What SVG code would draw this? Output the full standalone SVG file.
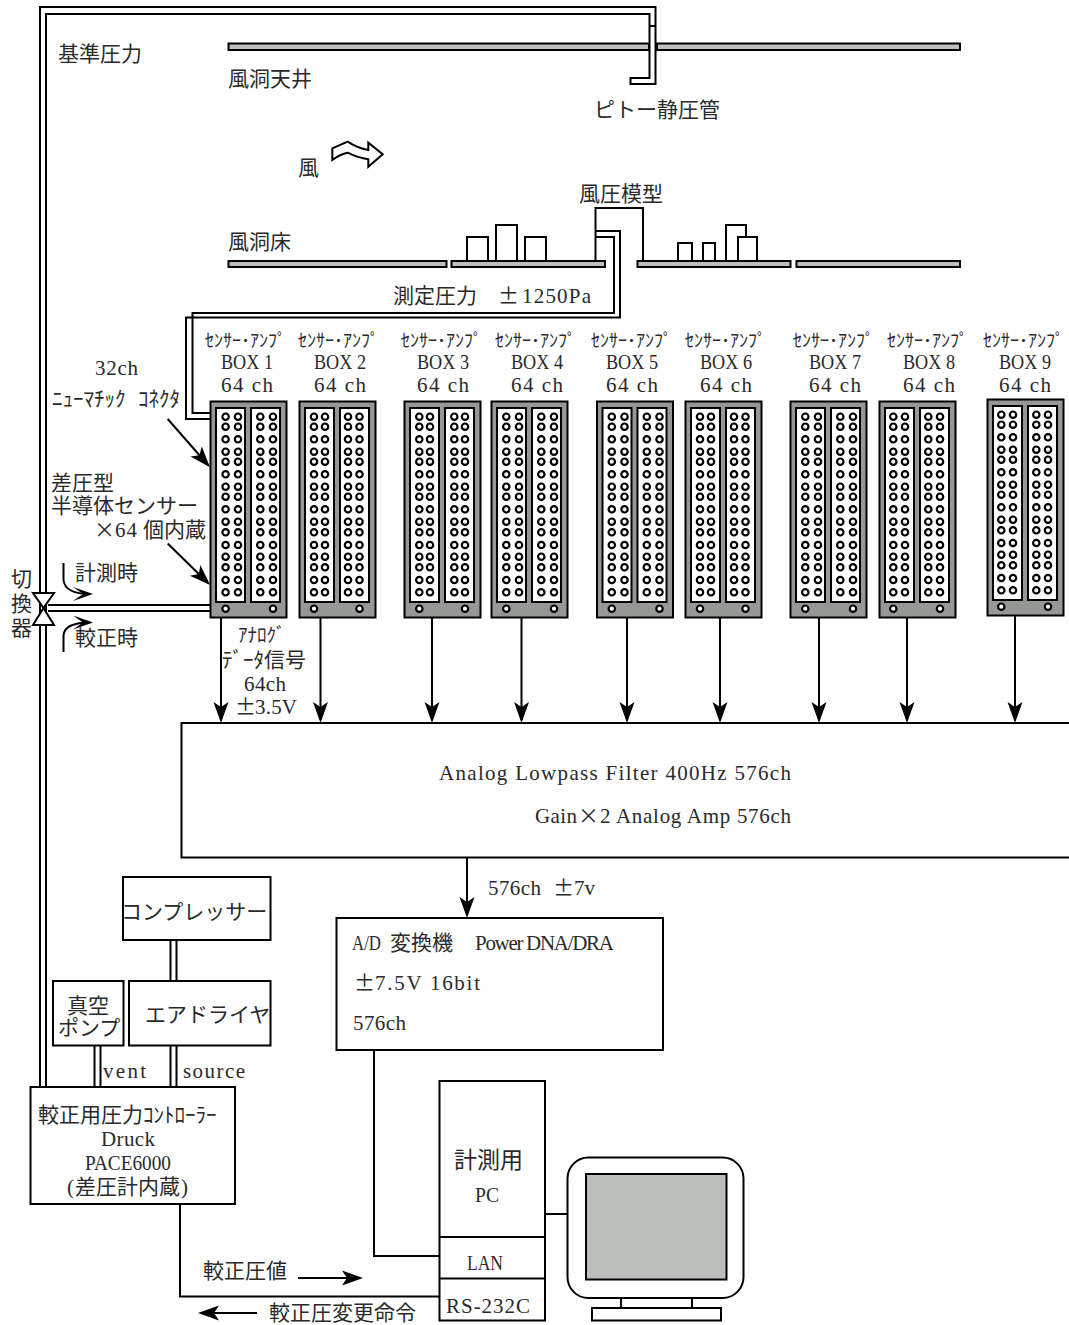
<svg xmlns="http://www.w3.org/2000/svg" width="1069" height="1325" viewBox="0 0 1069 1325">
<style>
text{fill:#2a2a2a}
.j{font-family:"Noto Sans CJK JP",sans-serif;font-size:21px}
.l{font-family:"Liberation Serif","Noto Sans CJK JP",serif;font-size:21px}
.a{font-family:"Noto Sans CJK JP",sans-serif;font-size:18px}
.h{font-family:"Noto Sans CJK JP",sans-serif;font-size:21px}
.s{fill:none;stroke:#000;stroke-width:2}
.w{fill:#fff;stroke:#000;stroke-width:2}
.g{fill:#bdbfbd;stroke:#000;stroke-width:2}
.ar{marker-end:url(#ah)}
.as{marker-end:url(#ahs)}
</style>
<defs>
<marker id="ah" markerUnits="userSpaceOnUse" markerWidth="24" markerHeight="18" refX="18" refY="9" orient="auto"><path d="M0,1.5 L21,9 L0,16.5 L5,9 Z" fill="#000"/></marker>
<marker id="ahs" markerUnits="userSpaceOnUse" markerWidth="24" markerHeight="14" refX="18" refY="7" orient="auto"><path d="M1,0 L21,7 L1,14 L11,7 Z" fill="#000"/></marker>
<g id="col" fill="#fff" stroke="#000" stroke-width="2.2">
<circle cy="15.7" r="3.2"/><circle cy="25.7" r="3.2"/><circle cy="38.3" r="3.2"/><circle cy="50.7" r="3.2"/><circle cy="60.7" r="3.2"/><circle cy="73.3" r="3.2"/><circle cy="85.7" r="3.2"/><circle cy="95.7" r="3.2"/><circle cy="108.3" r="3.2"/><circle cy="120.7" r="3.2"/><circle cy="131.3" r="3.2"/><circle cy="144" r="3.2"/><circle cy="155.7" r="3.2"/><circle cy="166.3" r="3.2"/><circle cy="179" r="3.2"/><circle cy="191.3" r="3.2"/>
</g>
<g id="colB"><use href="#col"/><circle cy="207.7" r="3.2" fill="#fff" stroke="#000" stroke-width="2.2"/></g>
<g id="frame"><rect x="0.5" y="0.5" width="76" height="216" fill="#969896" stroke="#000" stroke-width="2"/><rect x="6" y="7" width="29" height="194" class="w"/><rect x="41" y="7" width="29" height="194" class="w"/></g>
</defs>
<rect width="1069" height="1325" fill="#fff"/>

<g id="ceiling">
<rect x="228.5" y="43.5" width="420.5" height="6.5" class="g"/>
<rect x="657" y="43.5" width="303" height="6.5" class="g"/>
<text class="j" x="228" y="86">風洞天井</text>
</g>
<g id="floor">
<rect x="228.5" y="261" width="218" height="6" class="g"/>
<rect x="451.5" y="261" width="153.5" height="6" class="g"/>
<rect x="637.5" y="261" width="153" height="6" class="g"/>
<rect x="796.5" y="261" width="163.5" height="6" class="g"/>
<text class="j" x="228" y="249">風洞床</text>
</g>
<g id="buildings-left">
<rect x="467" y="237" width="21" height="24" class="w"/>
<rect x="496" y="225" width="21" height="36" class="w"/>
<rect x="525" y="237" width="21" height="24" class="w"/>
</g>
<g id="model">
<path class="s" d="M595.5,261V208H643V261"/>
<text class="j" x="579" y="201">風圧模型</text>
</g>
<g id="buildings-right">
<rect x="678" y="243" width="14" height="18" class="w"/>
<rect x="703" y="243" width="12" height="18" class="w"/>
<path class="s" d="M726,261V225H746V237"/>
<rect x="738" y="237" width="19" height="24" class="w"/>
</g>

<g id="connectors">
<path class="s" d="M46,1087V14H649.5V78H630.5V84H655.5V7H40V1087"/>
<path class="s" d="M649.5,26H655.5"/>
<path class="s" d="M595.5,231H620V317.5H186V419H221"/>
<path class="s" d="M595.5,237H614V313H192.5V413H221"/>
<path class="s" d="M48,605H210M48,611H210"/>
<path class="s" d="M170.5,940V981M176.5,940V981"/>
<path class="s" d="M170.5,1046V1087M176.5,1046V1087"/>
<path class="s" d="M94.5,1046V1087M100.5,1046V1087"/>
<path class="s ar" d="M221,618V720"/>
<path class="s ar" d="M320.5,618V720"/>
<path class="s ar" d="M432,618V720"/>
<path class="s ar" d="M521.5,618V720"/>
<path class="s ar" d="M627,618V720"/>
<path class="s ar" d="M720,618V720"/>
<path class="s ar" d="M819,618V720"/>
<path class="s ar" d="M907,618V720"/>
<path class="s ar" d="M1015,616V720"/>
<path class="s ar" d="M467,858V915"/>
<path class="s" d="M374,1050V1256H439"/>
<path class="s" d="M180,1204V1296.5H439"/>
<path class="s" d="M545,1214H567"/>
<path class="s ar" d="M298,1278H360"/>
<path class="s ar" d="M257,1313H201"/>
<path class="s ar" d="M167.7,419L208,465"/>
<path class="s ar" d="M167.7,543.5L208,583"/>
<path class="s as" d="M63.5,563V580Q65,594 90,594"/>
<path class="s as" d="M63.5,652V635Q65,622.5 90,622.5"/>
</g>

<g id="pitot"><text class="j" x="594" y="117">ピトー静圧管</text></g>
<g id="reference"><text class="j" x="58" y="61">基準圧力</text></g>
<g id="wind">
<path class="w" d="M332.3,160V148.3Q340,145 347.7,141.7Q357,148 368.3,150V142.7L382.7,154.3L368.3,166.7V159.3Q358,158 347.7,152.7Q340,154 332.3,160Z"/>
<text class="j" x="298" y="175">風</text>
</g>
<g id="measure"><text class="j" x="393" y="303">測定圧力</text><text class="j" x="498" y="303">±</text><text class="l" x="522" y="303" textLength="69" lengthAdjust="spacing">1250Pa</text></g>

<g id="box1"><text class="a" x="205" y="347">ｾﾝｻｰ･ｱﾝﾌﾟ</text><text class="l" x="221" y="369" textLength="52" lengthAdjust="spacingAndGlyphs">BOX 1</text><text class="l" x="221" y="392" textLength="52">64 ch</text>
<g transform="translate(210,401)"><use href="#frame"/><use href="#colB" x="15.6"/><use href="#col" x="28"/><use href="#col" x="50.3"/><use href="#colB" x="63"/></g></g>
<g id="box2"><text class="a" x="298" y="347">ｾﾝｻｰ･ｱﾝﾌﾟ</text><text class="l" x="314" y="369" textLength="52" lengthAdjust="spacingAndGlyphs">BOX 2</text><text class="l" x="314" y="392" textLength="52">64 ch</text>
<g transform="translate(299,401)"><use href="#frame"/><use href="#colB" x="15"/><use href="#col" x="26"/><use href="#col" x="49"/><use href="#colB" x="60.5"/></g></g>
<g id="box3"><text class="a" x="401" y="347">ｾﾝｻｰ･ｱﾝﾌﾟ</text><text class="l" x="417" y="369" textLength="52" lengthAdjust="spacingAndGlyphs">BOX 3</text><text class="l" x="417" y="392" textLength="52">64 ch</text>
<g transform="translate(404,401)"><use href="#frame"/><use href="#colB" x="15.3"/><use href="#col" x="26"/><use href="#col" x="50.3"/><use href="#colB" x="61"/></g></g>
<g id="box4"><text class="a" x="495" y="347">ｾﾝｻｰ･ｱﾝﾌﾟ</text><text class="l" x="511" y="369" textLength="52" lengthAdjust="spacingAndGlyphs">BOX 4</text><text class="l" x="511" y="392" textLength="52">64 ch</text>
<g transform="translate(491,401)"><use href="#frame"/><use href="#colB" x="15.3"/><use href="#col" x="28"/><use href="#col" x="50.3"/><use href="#colB" x="63"/></g></g>
<g id="box5"><text class="a" x="591" y="347">ｾﾝｻｰ･ｱﾝﾌﾟ</text><text class="l" x="606" y="369" textLength="52" lengthAdjust="spacingAndGlyphs">BOX 5</text><text class="l" x="606" y="392" textLength="52">64 ch</text>
<g transform="translate(596.5,401)"><use href="#frame"/><use href="#colB" x="15.3"/><use href="#col" x="28"/><use href="#col" x="50.3"/><use href="#colB" x="63"/></g></g>
<g id="box6"><text class="a" x="685" y="347">ｾﾝｻｰ･ｱﾝﾌﾟ</text><text class="l" x="700" y="369" textLength="52" lengthAdjust="spacingAndGlyphs">BOX 6</text><text class="l" x="700" y="392" textLength="52">64 ch</text>
<g transform="translate(685,401)"><use href="#frame"/><use href="#colB" x="15"/><use href="#col" x="26"/><use href="#col" x="49"/><use href="#colB" x="60.5"/></g></g>
<g id="box7"><text class="a" x="793" y="347">ｾﾝｻｰ･ｱﾝﾌﾟ</text><text class="l" x="809" y="369" textLength="52" lengthAdjust="spacingAndGlyphs">BOX 7</text><text class="l" x="809" y="392" textLength="52">64 ch</text>
<g transform="translate(790,401)"><use href="#frame"/><use href="#colB" x="15.3"/><use href="#col" x="28"/><use href="#col" x="50.3"/><use href="#colB" x="63"/></g></g>
<g id="box8"><text class="a" x="887" y="347">ｾﾝｻｰ･ｱﾝﾌﾟ</text><text class="l" x="903" y="369" textLength="52" lengthAdjust="spacingAndGlyphs">BOX 8</text><text class="l" x="903" y="392" textLength="52">64 ch</text>
<g transform="translate(879,401)"><use href="#frame"/><use href="#colB" x="14.3"/><use href="#col" x="26"/><use href="#col" x="49.3"/><use href="#colB" x="61"/></g></g>
<g id="box9"><text class="a" x="983" y="347">ｾﾝｻｰ･ｱﾝﾌﾟ</text><text class="l" x="999" y="369" textLength="52" lengthAdjust="spacingAndGlyphs">BOX 9</text><text class="l" x="999" y="392" textLength="52">64 ch</text>
<g transform="translate(987,399)"><use href="#frame"/><use href="#colB" x="14.3"/><use href="#col" x="26"/><use href="#col" x="49.3"/><use href="#colB" x="61"/></g></g>

<g id="labels-sensor">
<text class="l" x="95" y="375" textLength="43">32ch</text>
<text class="h" x="52" y="406">ﾆｭｰﾏﾁｯｸ</text><text class="h" x="138" y="406">ｺﾈｸﾀ</text>
<text class="j" x="51" y="490">差圧型</text>
<text class="j" x="51" y="513">半導体センサー</text>
<text class="j" x="94" y="537">×</text><text class="l" x="115" y="537" textLength="22">64</text><text class="j" x="143" y="537">個内蔵</text>
</g>
<g id="switch">
<path class="w" d="M33,593H54L43.5,608L54,625H33L43.5,608Z"/>
<text class="j" x="11" y="586">切</text><text class="j" x="11" y="611">換</text><text class="j" x="11" y="635">器</text>
<text class="j" x="75" y="580">計測時</text>
<text class="j" x="75" y="645">較正時</text>
</g>
<g id="analog-label">
<text class="a" x="238" y="642" style="font-size:19px">ｱﾅﾛｸﾞ</text>
<text class="h" x="222" y="667">ﾃﾞｰﾀ</text><text class="j" x="264" y="667">信号</text>
<text class="l" x="244" y="691" textLength="42">64ch</text>
<text class="j" x="235" y="714">±</text><text class="l" x="255" y="714" textLength="42">3.5V</text>
</g>
<g id="filter">
<path class="w" d="M1070,723H181.5V857.5H1070"/>
<text class="l" x="439" y="780" textLength="352">Analog Lowpass Filter 400Hz 576ch</text>
<text class="l" x="535" y="823" textLength="42">Gain</text><text class="j" x="578" y="823">×</text><text class="l" x="600" y="823" textLength="191">2 Analog Amp 576ch</text>
<text class="l" x="488" y="895" textLength="53">576ch</text><text class="j" x="553" y="895">±</text><text class="l" x="574" y="895" textLength="21">7v</text>
</g>
<g id="adc">
<rect x="336.5" y="918" width="326.5" height="132" class="w"/>
<text class="l" x="352" y="950" textLength="29" lengthAdjust="spacingAndGlyphs">A/D</text><text class="j" x="390" y="950">変換機</text><text class="l" x="475" y="950" textLength="139">Power DNA/DRA</text>
<text class="j" x="354" y="990">±</text><text class="l" x="375" y="990" textLength="105">7.5V 16bit</text>
<text class="l" x="353" y="1030" textLength="53">576ch</text>
</g>
<g id="compressor">
<rect x="123" y="877" width="147.5" height="63" class="w"/>
<text class="j" x="121" y="919">コンプレッサー</text>
</g>
<g id="dryer">
<rect x="129" y="981" width="141.5" height="64.5" class="w"/>
<text class="j" x="145" y="1022">エアドライヤ</text>
</g>
<g id="pump">
<rect x="53" y="981" width="70.5" height="64.5" class="w"/>
<text class="j" x="67" y="1013">真空</text>
<text class="j" x="58" y="1035">ポンプ</text>
</g>
<g id="port-labels">
<text class="l" x="103" y="1078" textLength="43">vent</text>
<text class="l" x="183" y="1078" textLength="62">source</text>
</g>
<g id="controller">
<rect x="30.5" y="1087" width="204.5" height="117" class="w"/>
<text class="j" x="38" y="1122">較正用圧力</text><text class="h" x="143" y="1122">ｺﾝﾄﾛｰﾗｰ</text>
<text class="l" x="101" y="1146" textLength="54">Druck</text>
<text class="l" x="85" y="1170" textLength="86" lengthAdjust="spacingAndGlyphs">PACE6000</text>
<text class="l" x="67" y="1194">(</text><text class="j" x="75" y="1194">差圧計内蔵</text><text class="l" x="181" y="1194">)</text>
</g>
<g id="pc">
<rect x="439.5" y="1081" width="105.5" height="239.5" class="w"/>
<path class="s" d="M439.5,1237H545M439.5,1278.5H545"/>
<text class="j" x="454" y="1168" style="font-size:23px">計測用</text>
<text class="l" x="475" y="1202" textLength="24" lengthAdjust="spacingAndGlyphs">PC</text>
<text class="l" x="467" y="1270" textLength="36" lengthAdjust="spacingAndGlyphs">LAN</text>
<text class="l" x="446" y="1313" textLength="84">RS-232C</text>
</g>
<g id="monitor">
<rect x="567.5" y="1157.5" width="176" height="140.5" rx="21" class="w"/>
<rect x="586" y="1174" width="140.5" height="105.5" class="g"/>
<rect x="621" y="1298" width="71" height="10" class="w"/>
<rect x="592" y="1308" width="129" height="12.5" class="w"/>
</g>
<g id="calibration-labels">
<text class="j" x="203" y="1278">較正圧値</text>
<text class="j" x="269" y="1320">較正圧変更命令</text>
</g>
</svg>
